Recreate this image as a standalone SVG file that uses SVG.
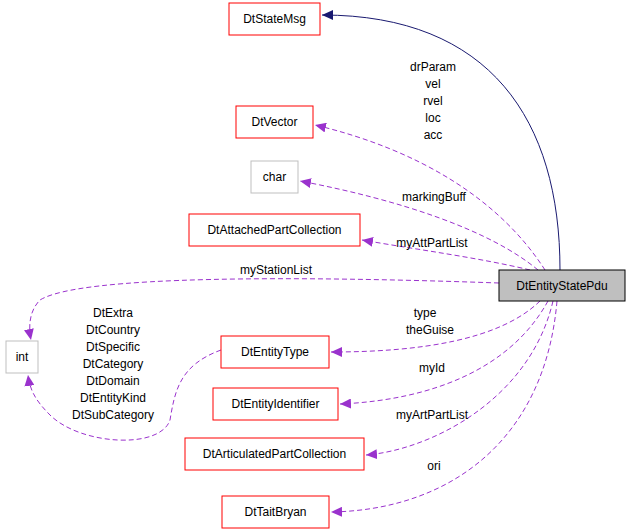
<svg xmlns="http://www.w3.org/2000/svg" width="629" height="529" viewBox="0 0 629 529">
<style>
text{font-family:"Liberation Sans",Arial,sans-serif;font-size:12px;fill:#000}
.n rect{fill:#fff;stroke:#ff0000;stroke-width:1}
.g rect{fill:#fff;stroke:#bfbfbf}
.m{text-anchor:middle}
.d{fill:none;stroke:#9a32cd;stroke-dasharray:5,3}
</style>
<defs>
<marker id="ap" markerWidth="12" markerHeight="10" refX="11" refY="5" orient="auto" markerUnits="userSpaceOnUse"><path d="M0,0 L11,5 L0,10 Z" fill="#9a32cd"/></marker>
<marker id="an" markerWidth="12" markerHeight="10" refX="11" refY="5" orient="auto" markerUnits="userSpaceOnUse"><path d="M0,0 L11,5 L0,10 Z" fill="#191970"/></marker>
</defs>
<g id="edges">
<path d="M560,270 C560,120 490,15 322,15" fill="none" stroke="#191970" marker-end="url(#an)"/>
<path class="d" d="M545,270 C500,200 420,150 315,125" marker-end="url(#ap)"/>
<path class="d" d="M538,270 C490,230 400,200 300,181" marker-end="url(#ap)"/>
<path class="d" d="M530,270 C480,258 420,250 362,240" marker-end="url(#ap)"/>
<path class="d" d="M499,283 C300,276 80,275 40,300 C30,310 28,325 31,340" marker-end="url(#ap)"/>
<path class="d" d="M540,301 C500,340 420,352 331,352" marker-end="url(#ap)"/>
<path class="d" d="M548,301 C510,370 430,400 340,404" marker-end="url(#ap)"/>
<path class="d" d="M553,301 C530,400 430,450 366,455" marker-end="url(#ap)"/>
<path class="d" d="M557,301 C545,440 450,510 331,512" marker-end="url(#ap)"/>
<path class="d" d="M221,350 C180,365 175,390 170,420 C160,450 80,445 50,415 C35,400 30,390 28,375" marker-end="url(#ap)"/>
<text class="m" x="433" y="71">drParam</text>
<text class="m" x="433" y="88">vel</text>
<text class="m" x="433" y="105">rvel</text>
<text class="m" x="433" y="122">loc</text>
<text class="m" x="433" y="139">acc</text>
<text class="m" x="434" y="201">markingBuff</text>
<text class="m" x="432" y="247">myAttPartList</text>
<text class="m" x="276" y="274">myStationList</text>
<text class="m" x="425" y="317">type</text>
<text class="m" x="430" y="334">theGuise</text>
<text class="m" x="432" y="372">myId</text>
<text class="m" x="432" y="419">myArtPartList</text>
<text class="m" x="434" y="470">ori</text>
<text class="m" x="113" y="317">DtExtra</text>
<text class="m" x="113" y="334">DtCountry</text>
<text class="m" x="113" y="351">DtSpecific</text>
<text class="m" x="113" y="368">DtCategory</text>
<text class="m" x="113" y="385">DtDomain</text>
<text class="m" x="113" y="402">DtEntityKind</text>
<text class="m" x="113" y="419">DtSubCategory</text>
</g>
<g id="DtStateMsg" class="n"><rect x="229" y="3" width="91" height="32"/><text class="m" x="274.5" y="23">DtStateMsg</text></g>
<g id="DtVector" class="n"><rect x="236" y="106" width="77" height="32"/><text class="m" x="274.5" y="126">DtVector</text></g>
<g id="char" class="g"><rect x="251" y="161" width="47" height="32"/><text class="m" x="274.5" y="181">char</text></g>
<g id="DtAttachedPartCollection" class="n"><rect x="189" y="214" width="171" height="32"/><text class="m" x="274.5" y="234">DtAttachedPartCollection</text></g>
<g id="DtEntityStatePdu"><rect x="499" y="270" width="126" height="31" fill="#bfbfbf" stroke="#000"/><text class="m" x="562" y="290">DtEntityStatePdu</text></g>
<g id="int" class="g"><rect x="6" y="341" width="32" height="32"/><text class="m" x="22" y="361">int</text></g>
<g id="DtEntityType" class="n"><rect x="221" y="336" width="108" height="32"/><text class="m" x="275" y="356">DtEntityType</text></g>
<g id="DtEntityIdentifier" class="n"><rect x="213" y="388" width="125" height="32"/><text class="m" x="275.5" y="408">DtEntityIdentifier</text></g>
<g id="DtArticulatedPartCollection" class="n"><rect x="185" y="438" width="179" height="32"/><text class="m" x="274.5" y="458">DtArticulatedPartCollection</text></g>
<g id="DtTaitBryan" class="n"><rect x="222" y="496" width="107" height="32"/><text class="m" x="275.5" y="516">DtTaitBryan</text></g>
</svg>
